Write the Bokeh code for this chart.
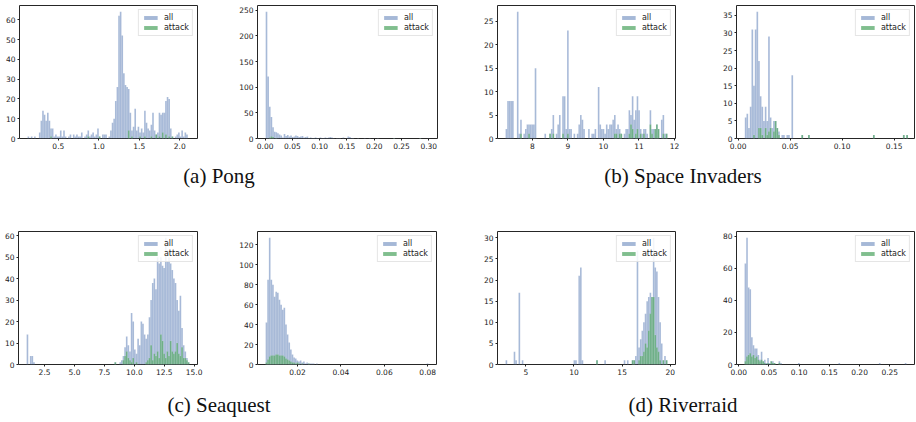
import numpy as np
from bokeh.plotting import figure
from bokeh.models import Range1d, SingleIntervalTicker, Legend, LegendItem, Div, PrintfTickFormatter
from bokeh.layouts import row, column
from bokeh.embed import file_html
from bokeh.resources import INLINE

# ---------------- data (histogram counts per bin, 100 bins each) ----------------
captions = ["(a) Pong", "(b) Space Invaders", "(c) Seaquest", "(d) Riverraid"]
series_labels = ["all", "attack"]

pong_left_start, pong_left_width = 0.12, 0.02
pong_left_all = [1, 0, 1, 0, 1, 0, 0, 3, 9, 14,
                 12, 9, 13, 9, 5, 5, 1, 2, 1, 1,
                 4, 1, 4, 1, 0, 1, 2, 0, 2, 1,
                 2, 1, 1, 3, 0, 1, 2, 4, 1, 2,
                 3, 1, 2, 5, 1, 0, 2, 2, 2, 0,
                 1, 4, 8, 10, 19, 26, 62, 64, 52, 33,
                 27, 26, 25, 13, 4, 6, 15, 4, 6, 3,
                 5, 3, 14, 8, 5, 4, 7, 13, 4, 2,
                 3, 13, 12, 13, 13, 19, 21, 20, 5, 1,
                 0, 1, 2, 3, 1, 4, 1, 3, 2, 0]
pong_left_attack = [0, 0, 0, 0, 0, 0, 0, 0, 0, 0,
                    0, 0, 0, 0, 1, 0, 0, 0, 0, 0,
                    0, 0, 0, 0, 0, 0, 0, 0, 0, 0,
                    0, 0, 0, 0, 0, 0, 0, 1, 0, 0,
                    0, 0, 0, 0, 1, 0, 0, 0, 0, 0,
                    0, 0, 0, 0, 0, 0, 0, 0, 0, 0,
                    0, 0, 4, 0, 1, 0, 0, 0, 0, 1,
                    0, 0, 1, 0, 0, 0, 1, 0, 0, 2,
                    0, 1, 0, 3, 0, 2, 0, 1, 0, 1,
                    0, 0, 0, 0, 0, 0, 0, 0, 0, 0]

pong_right_start, pong_right_width = 0.001, 0.003
pong_right_all = [247, 121, 62, 42, 22, 13, 12, 10, 8, 6,
                  2, 9, 5, 7, 4, 6, 3, 4, 6, 5,
                  3, 4, 5, 2, 3, 4, 1, 2, 1, 1,
                  2, 1, 1, 2, 1, 1, 2, 1, 2, 3,
                  2, 1, 0, 1, 1, 1, 0, 2, 0, 1,
                  4, 3, 1, 1, 0, 0, 1, 0, 0, 0,
                  1, 0, 0, 1, 0, 0, 0, 0, 1, 0,
                  0, 0, 0, 0, 0, 0, 0, 0, 1, 0,
                  0, 0, 0, 0, 0, 0, 0, 0, 0, 0,
                  0, 0, 0, 0, 1, 0, 0, 0, 0, 1]
pong_right_attack = [0, 0, 2, 4, 3, 0, 1, 0, 0, 0,
                     0, 0, 0, 0, 0, 0, 0, 0, 0, 0,
                     0, 0, 0, 0, 0, 0, 0, 0, 0, 0,
                     0, 0, 0, 0, 0, 0, 0, 0, 0, 0,
                     0, 0, 0, 0, 0, 0, 0, 0, 0, 0,
                     0, 0, 0, 0, 0, 0, 0, 0, 0, 0,
                     0, 0, 0, 0, 0, 0, 0, 0, 0, 0,
                     0, 0, 0, 0, 0, 0, 0, 0, 1, 0,
                     0, 0, 0, 0, 0, 0, 0, 0, 0, 0,
                     0, 0, 0, 0, 1, 0, 0, 0, 0, 0]

space_left_start, space_left_width = 7.25, 0.0455
space_left_all = [2, 8, 8, 8, 8, 0, 0, 27, 1, 4,
                  0, 1, 2, 3, 3, 3, 3, 3, 15, 0,
                  0, 0, 0, 0, 1, 0, 0, 1, 2, 5,
                  0, 1, 3, 5, 0, 9, 9, 2, 23, 2,
                  2, 0, 1, 0, 1, 3, 5, 4, 2, 0,
                  0, 2, 0, 1, 1, 2, 0, 11, 3, 2,
                  2, 1, 3, 2, 3, 3, 4, 5, 2, 3,
                  2, 1, 0, 1, 2, 2, 6, 5, 9, 4,
                  6, 9, 6, 2, 1, 2, 2, 1, 0, 6,
                  2, 2, 2, 3, 2, 0, 4, 5, 1, 1]
space_left_attack = [0, 0, 0, 0, 0, 0, 0, 0, 0, 1,
                     0, 0, 0, 0, 1, 0, 0, 0, 0, 0,
                     0, 0, 0, 0, 0, 0, 0, 1, 0, 1,
                     0, 0, 0, 0, 0, 1, 0, 0, 1, 0,
                     0, 0, 0, 0, 0, 0, 0, 0, 0, 0,
                     0, 0, 0, 0, 0, 0, 0, 0, 0, 0,
                     0, 0, 0, 0, 0, 0, 0, 1, 1, 0,
                     1, 1, 0, 0, 0, 0, 1, 3, 2, 0,
                     1, 2, 0, 1, 0, 1, 0, 0, 0, 3,
                     1, 0, 2, 3, 2, 0, 0, 1, 0, 1]

space_right_start, space_right_width = 0.0064, 0.0016
space_right_all = [6, 7, 3, 9, 31, 15, 31, 36, 22, 12,
                   9, 5, 9, 5, 29, 6, 3, 5, 5, 3,
                   2, 0, 1, 1, 0, 1, 1, 0, 18, 0,
                   0, 0, 0, 0, 1, 0, 0, 0, 1, 0,
                   0, 0, 0, 0, 0, 0, 0, 0, 0, 0,
                   0, 0, 0, 0, 0, 0, 0, 0, 0, 0,
                   0, 0, 0, 0, 0, 0, 0, 0, 0, 0,
                   0, 0, 0, 0, 0, 0, 0, 1, 0, 0,
                   0, 0, 0, 0, 0, 0, 0, 0, 0, 0,
                   0, 0, 0, 0, 0, 1, 0, 1, 0, 0]
space_right_attack = [0, 0, 0, 0, 0, 1, 0, 0, 3, 3,
                      1, 0, 3, 1, 2, 3, 0, 2, 5, 3,
                      1, 0, 0, 0, 0, 0, 0, 0, 0, 0,
                      0, 0, 0, 0, 1, 0, 0, 0, 1, 0,
                      0, 0, 0, 0, 0, 0, 0, 0, 0, 0,
                      0, 0, 0, 0, 0, 0, 0, 0, 0, 0,
                      0, 0, 0, 0, 0, 0, 0, 0, 0, 0,
                      0, 0, 0, 0, 0, 0, 0, 1, 0, 0,
                      0, 0, 0, 0, 0, 0, 0, 0, 0, 0,
                      0, 0, 0, 0, 0, 1, 0, 1, 0, 0]

sea_left_start, sea_left_width = 1.0, 0.136
sea_left_all = [14, 0, 4, 4, 1, 0, 0, 0, 0, 0,
                0, 0, 0, 0, 0, 0, 0, 0, 0, 0,
                0, 0, 0, 0, 0, 0, 0, 0, 0, 0,
                0, 0, 0, 0, 0, 0, 0, 0, 0, 0,
                0, 0, 0, 0, 0, 0, 0, 0, 0, 0,
                0, 0, 0, 0, 1, 0, 0, 1, 2, 4,
                8, 13, 9, 6, 24, 20, 7, 5, 12, 9,
                20, 19, 14, 12, 14, 22, 30, 38, 40, 35,
                50, 47, 50, 46, 45, 59, 48, 50, 47, 44,
                40, 38, 30, 25, 32, 17, 9, 6, 3, 1]
sea_left_attack = [0, 0, 0, 0, 0, 0, 0, 0, 0, 0,
                   0, 0, 0, 0, 0, 0, 0, 0, 0, 0,
                   0, 0, 0, 0, 0, 0, 0, 0, 0, 0,
                   0, 0, 0, 0, 0, 0, 0, 0, 0, 0,
                   0, 0, 0, 0, 0, 0, 0, 0, 0, 0,
                   0, 0, 0, 0, 1, 0, 0, 0, 0, 2,
                   4, 6, 3, 2, 1, 3, 0, 1, 0, 0,
                   0, 0, 0, 1, 2, 3, 9, 2, 5, 4,
                   6, 3, 14, 11, 5, 3, 6, 4, 11, 6,
                   5, 6, 10, 5, 4, 8, 3, 3, 2, 1]

sea_right_start, sea_right_width = 0.0053, 0.00075
sea_right_all = [42, 85, 127, 85, 80, 68, 73, 72, 65, 60,
                 55, 57, 40, 30, 22, 15, 10, 7, 6, 4,
                 3, 4, 2, 3, 1, 2, 1, 1, 1, 1,
                 0, 1, 0, 0, 0, 0, 0, 0, 0, 0,
                 0, 0, 0, 0, 0, 0, 0, 0, 0, 0,
                 0, 0, 0, 0, 0, 0, 0, 0, 0, 0,
                 0, 0, 0, 0, 0, 0, 0, 0, 0, 0,
                 0, 0, 0, 0, 0, 0, 0, 0, 0, 0,
                 0, 0, 0, 0, 0, 0, 0, 0, 0, 0,
                 0, 0, 0, 0, 0, 0, 0, 0, 0, 1]
sea_right_attack = [2, 5, 8, 9, 9, 9, 10, 10, 9, 9,
                    9, 8, 6, 5, 4, 3, 2, 2, 1, 2,
                    1, 0, 1, 0, 0, 0, 1, 0, 0, 0,
                    0, 0, 0, 0, 0, 0, 0, 0, 0, 0,
                    0, 0, 0, 0, 0, 0, 0, 0, 0, 0,
                    0, 0, 0, 0, 0, 0, 0, 0, 0, 0,
                    0, 0, 0, 0, 0, 0, 0, 0, 0, 0,
                    0, 0, 0, 0, 0, 0, 0, 0, 0, 0,
                    0, 0, 0, 0, 0, 0, 0, 0, 0, 0,
                    0, 0, 0, 0, 0, 0, 0, 0, 0, 0]

river_left_start, river_left_width = 2.9, 0.168
river_left_all = [1, 0, 0, 0, 0, 3, 1, 0, 17, 0,
                  1, 0, 0, 0, 0, 0, 0, 0, 0, 0,
                  0, 0, 0, 0, 0, 0, 0, 0, 0, 0,
                  0, 0, 0, 0, 0, 0, 0, 0, 0, 0,
                  0, 0, 1, 1, 0, 21, 23, 1, 0, 0,
                  0, 0, 0, 0, 0, 0, 1, 0, 0, 0,
                  0, 1, 0, 0, 0, 0, 0, 0, 0, 0,
                  0, 0, 0, 1, 0, 1, 0, 0, 1, 1,
                  2, 27, 4, 6, 8, 10, 12, 15, 16, 17,
                  16, 30, 23, 22, 16, 10, 5, 1, 2, 1]
river_left_attack = [0, 0, 0, 0, 0, 0, 0, 0, 0, 0,
                     0, 0, 0, 0, 0, 0, 0, 0, 0, 0,
                     0, 0, 0, 0, 0, 0, 0, 0, 0, 0,
                     0, 0, 0, 0, 0, 0, 0, 0, 0, 0,
                     0, 0, 0, 0, 0, 0, 0, 0, 0, 0,
                     0, 0, 0, 0, 0, 0, 1, 0, 0, 0,
                     0, 0, 0, 0, 0, 0, 0, 0, 0, 0,
                     0, 0, 0, 0, 0, 0, 0, 0, 1, 1,
                     0, 0, 1, 2, 2, 3, 5, 4, 8, 12,
                     16, 16, 7, 4, 3, 1, 0, 1, 0, 1]

river_right_start, river_right_width = 0.0096, 0.00268
river_right_all = [63, 79, 48, 47, 17, 12, 10, 10, 6, 3,
                   8, 2, 3, 1, 4, 1, 2, 2, 1, 0,
                   0, 2, 1, 0, 0, 0, 0, 0, 0, 0,
                   0, 0, 0, 1, 0, 0, 0, 0, 0, 0,
                   0, 0, 0, 0, 0, 0, 0, 0, 0, 0,
                   0, 0, 0, 0, 0, 0, 0, 0, 1, 0,
                   0, 0, 0, 0, 0, 0, 0, 0, 0, 0,
                   0, 0, 0, 0, 0, 0, 0, 0, 0, 0,
                   0, 0, 0, 1, 0, 0, 0, 0, 0, 0,
                   0, 0, 0, 0, 0, 0, 0, 0, 0, 1]
river_right_attack = [2, 5, 6, 7, 5, 6, 4, 5, 3, 2,
                      3, 2, 1, 0, 1, 0, 2, 1, 1, 0,
                      0, 1, 0, 0, 0, 0, 0, 0, 0, 0,
                      0, 0, 0, 0, 0, 0, 0, 0, 0, 0,
                      0, 0, 0, 0, 0, 0, 0, 0, 0, 0,
                      0, 0, 0, 0, 0, 0, 0, 0, 0, 0,
                      0, 0, 0, 0, 0, 0, 0, 0, 0, 0,
                      0, 0, 0, 0, 0, 0, 0, 0, 0, 0,
                      0, 0, 0, 0, 0, 0, 0, 0, 0, 0,
                      0, 0, 0, 0, 0, 0, 0, 0, 0, 0]

# ---------------- styling ----------------
BLUE = "#4C72B0"
GREEN = "#55A868"
TICK_FONT = "DejaVu Sans"


def make_panel(start, width, counts_all, counts_attack, xtick, ytick, xfmt, geom, x_end=None):
    assert len(counts_all) == len(counts_attack) == 100
    fw, fh, bl, br, bt, bb = geom
    n = len(counts_all)
    edges = start + width * np.arange(n + 1)
    lo, hi = edges[0], edges[-1]
    pad = 0.05 * (hi - lo)
    xr = Range1d(lo - pad, x_end if x_end is not None else hi + pad)
    yr = Range1d(0, 1.05 * max(counts_all))
    p = figure(width=fw, height=fh, x_range=xr, y_range=yr, title=None,
               output_backend="svg", toolbar_location=None,
               min_border_left=bl, min_border_right=br,
               min_border_top=bt, min_border_bottom=bb)
    p.background_fill_color = "white"
    p.border_fill_color = "white"
    p.outline_line_color = "#262626"
    p.outline_line_width = 1
    p.xgrid.visible = False
    p.ygrid.visible = False
    items = []
    for counts, color, alpha, label in ((counts_all, BLUE, 0.5, series_labels[0]),
                                        (counts_attack, GREEN, 0.75, series_labels[1])):
        c = np.asarray(counts, dtype=float)
        m = c > 0
        r = p.quad(left=edges[:-1][m], right=edges[1:][m], bottom=0, top=c[m],
                   fill_color=color, fill_alpha=alpha,
                   line_color="white", line_alpha=0.2, line_width=0.5)
        items.append(LegendItem(label=label, renderers=[r]))
    legend = Legend(items=items, location="top_right", margin=4, padding=3,
                    spacing=1, glyph_width=17, glyph_height=5, label_height=8,
                    label_standoff=5, label_text_font=TICK_FONT,
                    label_text_font_size="8px", label_text_color="#222222",
                    border_line_color="#cccccc", border_line_width=1,
                    background_fill_color="white", background_fill_alpha=0.85)
    p.add_layout(legend)
    p.xaxis.ticker = SingleIntervalTicker(interval=xtick, num_minor_ticks=0)
    p.yaxis.ticker = SingleIntervalTicker(interval=ytick, num_minor_ticks=0)
    p.xaxis.formatter = PrintfTickFormatter(format=xfmt)
    p.yaxis.formatter = PrintfTickFormatter(format="%d")
    for ax in (p.xaxis[0], p.yaxis[0]):
        ax.axis_line_color = None
        ax.major_tick_in = 0
        ax.major_tick_out = 2
        ax.major_tick_line_color = "#222222"
        ax.minor_tick_line_color = None
        ax.major_label_standoff = 2
        ax.major_label_text_font = TICK_FONT
        ax.major_label_text_font_size = "7.5px"
        ax.major_label_text_color = "#222222"
    return p


# geometry: (fig width, fig height, border left, right, top, bottom)
a1 = make_panel(pong_left_start, pong_left_width, pong_left_all, pong_left_attack,
                0.5, 10, "%.1f", (225, 160, 19, 28, 5, 22))
a2 = make_panel(pong_right_start, pong_right_width, pong_right_all, pong_right_attack,
                0.05, 50, "%.2f", (230, 160, 32, 18, 5, 22))
b1 = make_panel(space_left_start, space_left_width, space_left_all, space_left_attack,
                1, 5, "%d", (230, 160, 42, 10, 5, 22))
b2 = make_panel(space_right_start, space_right_width, space_right_all, space_right_attack,
                0.05, 5, "%.2f", (231, 160, 51, 2, 5, 22), x_end=0.1695)
c1 = make_panel(sea_left_start, sea_left_width, sea_left_all, sea_left_attack,
                2.5, 10, "%.1f", (225, 162, 18, 28, 3, 26))
c2 = make_panel(sea_right_start, sea_right_width, sea_right_all, sea_right_attack,
                0.02, 20, "%.2f", (230, 162, 32, 19, 3, 26))
d1 = make_panel(river_left_start, river_left_width, river_left_all, river_left_attack,
                5, 5, "%d", (230, 162, 42, 10, 3, 26))
d2 = make_panel(river_right_start, river_right_width, river_right_all, river_right_attack,
                0.05, 20, "%.2f", (231, 162, 51, 2, 3, 26))


def caption_div(left_text, right_text, height, top):
    style = ("position:absolute;top:%dpx;text-align:center;white-space:nowrap;"
             "font-family:'Liberation Serif',serif;font-size:21px;line-height:21px;color:#111;") % top
    html = ('<div style="position:relative;width:916px;height:%dpx;">'
            '<div style="%sleft:0px;width:438px;">%s</div>'
            '<div style="%sleft:483px;width:400px;">%s</div></div>') % (
        height, style, left_text, style, right_text)
    return Div(text=html, width=916, height=height, margin=0)


cap1 = caption_div(captions[0], captions[1], 68, 6)
cap2 = caption_div(captions[2], captions[3], 32, 5)

layout = column(row(a1, a2, b1, b2), cap1, row(c1, c2, d1, d2), cap2,
                styles={"position": "absolute", "left": "0px", "top": "0px"})

open("out.html", "w").write(file_html(layout, INLINE))
